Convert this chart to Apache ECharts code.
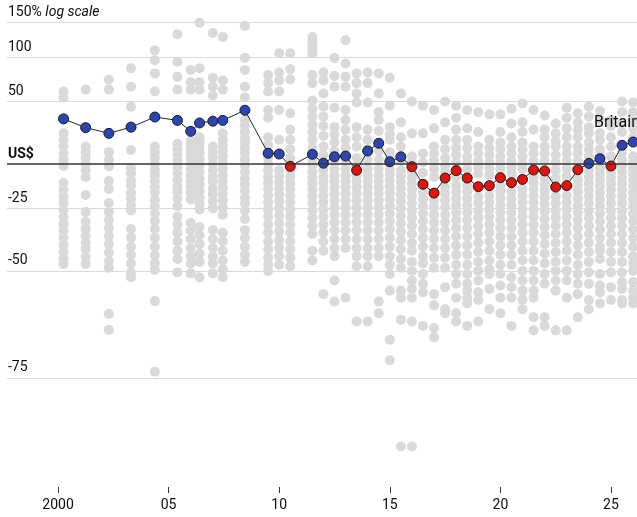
<!DOCTYPE html>
<html>
<head>
<meta charset="utf-8">
<script src="https://cdn.jsdelivr.net/npm/echarts@6/dist/echarts.min.js"></script>
<style>
html, body { margin: 0; padding: 0; background: #fff; }
#chart { width: 637px; height: 517px; }
</style>
</head>
<body>
<div id="chart"></div>
<script>
// survey dates (decimal years)
var surveyDates = [2000.25, 2001.25, 2002.3, 2003.3, 2004.38, 2005.4, 2006.0, 2006.4, 2007.0, 2007.45,
  2008.45, 2009.5, 2010.0, 2010.5, 2011.5, 2012.0, 2012.5, 2013.0, 2013.5, 2014.0,
  2014.5, 2015.0, 2015.5, 2016.0, 2016.5, 2017.0, 2017.5, 2018.0, 2018.5, 2019.0,
  2019.5, 2020.0, 2020.5, 2021.0, 2021.5, 2022.0, 2022.5, 2023.0, 2023.5, 2024.0,
  2024.5, 2025.0, 2025.5, 2026.0];

// Britain, % over/under-valued against US$
var britain = [34, 26.6, 22, 27, 35.6, 32.7, 23.6, 30.5, 32, 32.7,
  41.7, 7.2, 6.7, -1.5, 6.5, 0.5, 4.8, 5.3, -4, 8.8,
  14.4, 1.5, 4.8, -1.7, -12.3, -17.2, -8.7, -4.2, -8.7, -13.7,
  -13.1, -8.5, -11.4, -9.5, -3.8, -4.4, -13.9, -13.1, -3.6, 0.4,
  3.5, -1.3, 12.9, 15.3];

// all other countries, one list per survey
var others = [
  [60, 54, 22, 17, 12, 7, 2.6, -1.3, -11.6, -15.5, -19.2, -22.3, -25.8, -29.1, -32.2, -35.2, -38.1, -40.9, -43.4, -46, -47.7],
  [62, 12, 8, 4, 0, -3.8, -8.1, -18.2, -26.8, -31.3, -34.4, -37.3, -40.1, -42.3, -45.3, -47.7],
  [73, 62, 8, 3, -1.5, -10.5, -15, -22.3, -26.8, -30.4, -33.9, -37.3, -40.5, -43.7, -46.7, -49, -62.2, -65.9],
  [86, 65, 45, 9.5, -2.5, -6, -10, -13, -17, -20, -23.4, -26, -34.4, -38, -41.5, -44.5, -47.5, -50.5, -52],
  [109, 96, 80, 60, 12, 8, 4, 0, -3.8, -7, -10.5, -14, -17, -20.8, -24, -27.5, -31, -34.5, -38, -41.5, -44.7, -47.5, -49.7, -58.9, -74],
  [132, 94, 76, 62, 14, 10, 6, 2, -2, -6, -10, -13.5, -16.5, -20, -24, -29, -32.5, -36, -39.5, -43, -46, -50.5],
  [84, 70, 62, 16, 12, 8, 4, 0, -3.5, -7, -10.5, -14, -17, -20.5, -31.8, -35, -38.5, -42, -45, -47.5, -50.8],
  [150, 86, 70, 62, 19, 15, 11, 7, 3, -1, -5, -9, -12.5, -16, -19.5, -22.5, -25.5, -33.5, -37, -40.5, -44, -47, -52],
  [134, 75, 65, 56, 12, 8, 4, 0, -4, -8, -11, -15, -18, -21.5, -25, -34.8, -38.5, -42, -45, -47.5, -50.8],
  [128, 72, 62, 22, 17, 13, 9, 5, 1, -3, -7, -10.5, -14, -17.5, -21, -24.5, -28, -36, -39.5, -43, -46.5, -49.5, -52],
  [145, 99, 84, 65, 54, 33, 28, 23, 19, 15, 11, 7, 3, -1, -5, -9, -12.5, -16, -19.5, -22.5, -26, -30, -34.8, -38, -41.5, -44.5, -47],
  [78, 69, 60, 42, 35, 19, 13, 4, 0, -4, -8, -11.5, -15, -18.5, -22, -25.5, -29, -32.5, -36, -39.5, -42.5, -45.5, -48, -50],
  [105, 81, 72, 60, 42, 17, -4, -7.5, -11, -14.5, -18, -21.5, -25, -28.5, -32, -35.5, -39, -42, -45, -48],
  [105, 85, 73, 39, 25, 17, 10, 4, -4.5, -8, -11.5, -15, -18.5, -22, -25.5, -29, -32.5, -36, -39.5, -42.5, -45.5, -48.5],
  [128, 122, 116, 110, 105, 78, 69, 51, 43, 36, 29, 23, 17, 11, 3, -1, -5, -8.5, -12, -15.5, -19, -22.5, -26, -29.5, -33, -36.5, -43, -46.5],
  [81, 72, 58, 45, 36, 28, 20, 12, 6, -4, -8, -11.5, -15, -18.5, -22, -25.5, -29, -32.5, -36, -39.5, -43, -57],
  [99, 77, 65, 44, 27, 21, 15, 9, 2, -3, -7, -10.5, -14, -17.5, -21, -24.5, -28, -31.5, -35, -38.5, -42, -45, -53, -59],
  [123, 92, 76, 65, 42, 33, 25, 17, 11, 2, -3, -7, -10.5, -14, -17.5, -21, -24.5, -28, -31.5, -35, -38.5, -42, -58],
  [80, 69, 58, 49, 27, 19, 12, 4, -1, -7, -10.5, -14, -17.5, -21, -24.5, -28, -31.5, -35, -38.5, -42, -45, -48.5, -64],
  [81, 69, 49, 25, 17, 10, 3, -3, -7, -10.5, -14, -17.5, -21, -24.5, -28, -31.5, -35, -38.5, -42, -45, -48.5, -64],
  [80, 58, 40, 33, 24, 9, 3, -3, -7, -10.5, -14, -17.5, -21, -24.5, -28, -31.5, -35, -38.5, -42, -45, -59, -62],
  [75, 46, 27, 21, 17, 8, 4, -3, -6.5, -10, -13.5, -17, -20.5, -24, -27.5, -31, -34.5, -38, -41.5, -45, -48, -51, -56, -68, -72],
  [58, 31, 19, 12, 2, -4, -7.5, -11, -14.5, -18, -21.5, -25, -28.5, -32, -35.5, -39, -42.5, -46, -49, -56, -58, -63.6, -84],
  [50, 22, 5, 1, -5, -8.5, -12, -15.5, -19, -22.5, -26, -29.5, -33, -36.5, -40, -43, -47, -50, -53, -55.5, -58, -64, -84],
  [46, 22, 7, 1, -5.5, -17, -20.5, -24, -27.5, -31, -34.5, -38, -41.5, -45, -47.5, -51, -54, -56.5, -65],
  [42, 26, 12, 7, 2, -3, -8, -21, -24.5, -28, -31.5, -35, -38.5, -42, -45.5, -49, -57, -60, -65.5, -67.5],
  [50, 31, 17, 10, 4, -1, -5, -14, -17.5, -21, -24.5, -28, -31.5, -35, -38.5, -42, -45.5, -49, -55, -61, -62],
  [46, 35, 25, 17, 11, 6, 1, -8, -13, -16.5, -20, -23.5, -27, -30.5, -34, -37.5, -41, -44.5, -48, -51, -54, -58, -62, -64],
  [42, 26, 17, 11, 5, 1, -3.5, -13, -16.5, -20, -23.5, -27, -30.5, -34, -37.5, -41, -44.5, -48, -51, -54, -56, -58, -59.5, -65],
  [40, 23, 12, 7, 2, -2, -6, -19, -22.5, -26, -29.5, -33, -36.5, -40, -43.5, -47, -50, -53, -56.5, -58.6, -64],
  [38, 17, 11, 6, 1, -3, -7, -18.5, -22, -25.5, -29, -32.5, -36, -39.5, -43, -46.5, -49.5, -51, -55.5, -61],
  [38, 23, 15, 10, 5, 1, -3, -13, -16.5, -20, -23.5, -27, -30.5, -34, -37.5, -41, -44.5, -48, -51, -54.5, -58, -62],
  [43, 30, 19, 12, 7, 2, -2, -6, -16.5, -20, -23.5, -27, -30.5, -34, -37.5, -41, -44.5, -48, -52, -55, -58, -65],
  [48, 31, 23, 15, 10, 5, 0, -3, -15, -18.5, -22, -25.5, -29, -32.5, -36, -39.5, -43, -46.5, -50, -53, -56, -58.5, -61],
  [42, 25, 12, 7, 2, -8, -11.5, -15, -18.5, -22, -25.5, -29, -32.5, -36, -39.5, -43, -46.5, -50, -53, -56, -58, -63, -66],
  [37, 25, 19, 12, 7, 2, -9, -12.5, -16, -19.5, -23, -26.5, -30, -33.5, -37, -40.5, -44, -47.5, -51, -54, -63, -65],
  [30, 22, 16, 12, 6, 1, -4, -9, -19, -22.5, -26, -29.5, -33, -36.5, -40, -43.5, -47, -50, -53, -56, -66],
  [44, 35, 26, 19, 12, 7, 2, -3, -8, -18.5, -22, -25.5, -29, -32.5, -36, -39.5, -43, -46.5, -50, -53, -58, -66],
  [39, 31, 25, 19, 12, 7, 2, -9.5, -13, -16.5, -20, -23.5, -27, -30.5, -34, -37.5, -41, -44.5, -48, -51, -54, -57, -63],
  [45, 36, 27, 22, 15, 10, 5, -4, -8, -12, -15.5, -19, -22.5, -26, -29.5, -33, -36.5, -40, -43.5, -47, -50.5, -54, -58.6, -61],
  [41, 33, 22, 17, 10, 6, -3, -6.5, -10, -13.5, -17, -20.5, -24, -27.5, -31, -34.5, -38, -41.5, -43, -46, -51, -54.5, -56.5, -59.5],
  [33, 28, 19, 12, 5, -5, -8.5, -12, -15.5, -19, -22.5, -26, -29.5, -33, -36.5, -40, -43.5, -47, -50.5, -55, -58.6],
  [50, 40, 30, 23, 8, 3, -1, -5, -8.5, -12, -15.5, -19, -22.5, -26, -29.5, -33, -36.5, -40, -43.5, -47, -50.5, -53.5, -55.5, -58.6, -59.5],
  [49, 40, 33, 26, 19, 5, 1, -3, -6.5, -10, -13.5, -17, -20.5, -24, -27.5, -31, -34.5, -38, -41.5, -45, -47.5, -50, -53.5, -56, -58, -59.5]
];

var gridValues = [150, 100, 50, -25, -50, -75];
var gridLabels = ['150%', '100', '50', '-25', '-50', '-75'];
var yearTicks = [2000, 2005, 2010, 2015, 2020, 2025];

var FONT = 'Roboto, "Liberation Sans", sans-serif';

// log scale works on price ratio: 1 + pct/100
function ratio(p) { return 1 + p / 100; }

var greyData = [];
for (var i = 0; i < surveyDates.length; i++) {
  for (var j = 0; j < others[i].length; j++) {
    greyData.push([surveyDates[i], ratio(others[i][j])]);
  }
}

var britainData = britain.map(function (v, i) {
  var item = {
    value: [surveyDates[i], ratio(v)],
    itemStyle: { color: v >= 0 ? '#2b45b5' : '#e3120b' }
  };
  if (i === britain.length - 2) {
    item.label = {
      show: true, formatter: 'Britain', position: 'top', distance: 9, offset: [-5, 0],
      color: '#0d0d0d', fontSize: 16, fontFamily: FONT
    };
  }
  return item;
});

var gridLines = gridValues.map(function (v, i) {
  var d = { yAxis: ratio(v), label: { formatter: gridLabels[i] } };
  if (i === 0) d.label.formatter = '{n|150%} {i|log scale}';
  return d;
});

var chart = echarts.init(document.getElementById('chart'));
chart.setOption({
  animation: false,
  backgroundColor: '#fff',
  grid: { left: 7, right: 0, top: 0, bottom: 30 },
  xAxis: {
    type: 'value',
    min: 1997.694,
    max: 2026.176,
    splitLine: { show: false },
    axisLine: { show: false },
    axisTick: { show: true, customValues: yearTicks, length: 6, lineStyle: { color: '#333', width: 1 } },
    axisLabel: {
      customValues: yearTicks,
      margin: 11,
      color: '#0d0d0d',
      fontSize: 14,
      fontFamily: FONT,
      formatter: function (v) { return v === 2000 ? '2000' : String(v).slice(2); }
    }
  },
  yAxis: {
    type: 'log',
    logBase: 10,
    min: 0.1231,
    max: 2.897,
    splitLine: { show: false },
    axisLine: { show: false },
    axisTick: { show: false },
    axisLabel: { show: false }
  },
  series: [
    {
      type: 'line',
      data: [],
      z: 1,
      silent: true,
      markLine: {
        silent: true,
        symbol: 'none',
        lineStyle: { color: '#d9d9d9', width: 1, type: 'solid' },
        label: {
          position: 'insideStartTop',
          distance: [1, 3],
          color: '#0d0d0d',
          fontSize: 14,
          fontFamily: FONT,
          rich: {
            n: { fontSize: 14, fontFamily: FONT, color: '#0d0d0d' },
            i: { fontSize: 14, fontFamily: FONT, color: '#0d0d0d', fontStyle: 'italic' }
          }
        },
        data: gridLines
      }
    },
    {
      type: 'scatter',
      data: greyData,
      z: 2,
      symbolSize: 10,
      itemStyle: { color: '#d9d9d9', opacity: 1 },
      silent: true
    },
    {
      type: 'line',
      data: [],
      z: 3,
      silent: true,
      markLine: {
        silent: true,
        symbol: 'none',
        lineStyle: { color: '#333', width: 1.5, type: 'solid' },
        label: {
          position: 'insideStartTop',
          distance: [1, 3],
          formatter: 'US$',
          color: '#0d0d0d',
          fontSize: 14,
          fontWeight: 'bold',
          fontFamily: FONT
        },
        data: [{ yAxis: 1 }]
      }
    },
    {
      name: 'Britain',
      type: 'line',
      data: britainData,
      z: 4,
      symbol: 'circle',
      symbolSize: 10,
      showAllSymbol: true,
      lineStyle: { color: '#262626', width: 1 },
      itemStyle: { borderColor: '#1a1a1a', borderWidth: 1 }
    }
  ]
});
</script>
</body>
</html>
